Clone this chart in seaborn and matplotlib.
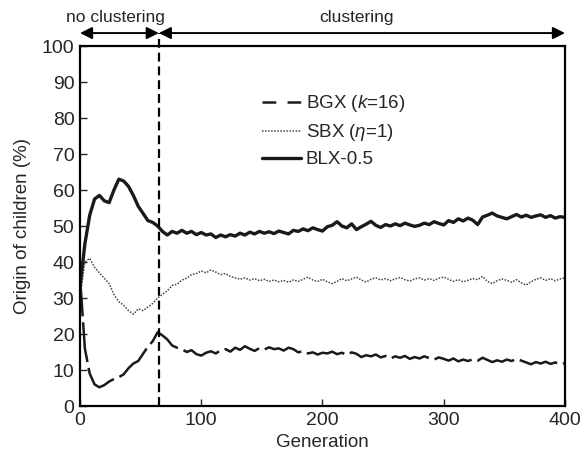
import numpy as np
import pandas as pd
import matplotlib
matplotlib.use("Agg")
import matplotlib.pyplot as plt
import seaborn as sns

# generations sampled every 4 steps (0..400)
generations = np.arange(0, 401, 4)

blx = [33, 45, 53, 57.5, 58.5, 57, 56.5, 60, 63, 62.5,
       61, 58.5, 55.5, 53.5, 51.5, 51, 50, 48.5, 47.5, 48.5,
       48, 48.8, 48, 48.5, 47.6, 48.2, 47.5, 47.8, 46.8, 47.5,
       47, 47.6, 47.2, 48, 47.5, 48.3, 47.8, 48.5, 48, 48.4,
       47.9, 48.6, 48.2, 47.8, 48.8, 48.5, 49.2, 48.7, 49.5, 49,
       48.6, 49.8, 50.2, 51.2, 50, 49.5, 50.6, 49, 49.8, 50.5,
       51.3, 50.2, 49.6, 50.4, 50, 50.6, 50.1, 50.8, 50.3, 49.9,
       50.2, 50.8, 50.4, 51.2, 50.7, 50.3, 51.5, 51, 52, 51.4,
       52.2, 51.6, 50.4, 52.5, 53, 53.6, 52.8, 52.4, 52, 52.6,
       53.2, 52.5, 53, 52.4, 52.8, 53.1, 52.4, 52.9, 52.2, 52.6,
       52.4]

sbx = [30, 40, 41, 38.5, 37, 35.5, 34, 31, 29, 28,
       26.5, 25.5, 27, 26.5, 27.5, 28.5, 30, 31, 32, 33.5,
       33.8, 35, 35.5, 36.5, 36.8, 37.5, 37, 37.8, 37.2, 36.5,
       36.8, 36, 35.6, 35.2, 35.6, 35, 35.4, 34.8, 35.2, 34.6,
       35, 34.5, 34.9, 34.4, 35, 34.6, 35.2, 35.8, 35, 34.6,
       35.2, 34.5, 34, 34.6, 35.4, 34.8, 35.3, 35.8, 35, 34.4,
       35.2, 35.6, 35, 35.4, 34.8, 35.3, 35.7, 35.1, 34.7, 35.3,
       35.6, 35, 35.4, 34.9, 35.5, 35.8, 35.2, 34.6, 35.1, 34.5,
       34.9, 35.4, 35.1, 36, 34.6, 34, 34.8, 35.3, 34.9, 34.4,
       35.1, 34.2, 33.6, 34.5, 35.2, 35.6, 34.9, 35.4, 34.8, 35.3,
       35.6]

bgx = [36, 16, 9, 6, 5.2, 5.8, 6.8, 7.5, 8, 8.8,
       10.5, 11.8, 12.5, 14.5, 16.5, 18, 20.5, 19.6, 18.5, 16.8,
       16.2, 15.8, 15, 15.5, 14.4, 14, 14.8, 15.2, 14.6, 15.5,
       15.8, 15.1, 16.2, 15.6, 16.6, 15.9, 15.3, 16.1, 15.7, 16.3,
       15.8, 16, 15.4, 16.2, 15.8, 14.9, 15.3, 14.6, 14.9, 14.3,
       14.8, 14.6, 15.1, 14.4, 14.8, 14.2, 14.9, 14.5, 13.6, 14.1,
       13.8, 14.3, 13.5, 13.9, 13.2, 13.8, 13.4, 13.9, 13.1, 13.6,
       13.2, 13.8, 13.3, 12.9, 13.5, 13.1, 12.6, 13.2, 12.4, 12.9,
       12.5, 13, 12.6, 13.4, 12.8, 12.2, 12.7, 12.3, 12.9, 12.5,
       13.1, 12.6, 12.1, 11.6, 12.2, 11.8, 12.3, 11.7, 12.1, 11.6,
       11.9]

switch_gen = 65

sns.set_style("ticks")
plt.rcParams["font.family"] = ["Liberation Sans", "DejaVu Sans"]
plt.rcParams["mathtext.fontset"] = "custom"
plt.rcParams["mathtext.it"] = "Liberation Sans:italic"
plt.rcParams["mathtext.rm"] = "Liberation Sans"

fig = plt.figure(figsize=(5.87, 4.63), dpi=100)
ax = fig.add_axes([0.1363, 0.1231, 0.8262, 0.7775])

df = pd.DataFrame({"gen": generations, "bgx": bgx, "sbx": sbx, "blx": blx})

sns.lineplot(data=df, x="gen", y="bgx", ax=ax, color="#1a1a1a", lw=1.8,
             linestyle=(0, (16, 2.4)), label="BGX ($k$=16)")
sns.lineplot(data=df, x="gen", y="sbx", ax=ax, color="#444444", lw=1.1,
             linestyle=(0, (1, 1)), label="SBX ($\\eta$=1)")
sns.lineplot(data=df, x="gen", y="blx", ax=ax, color="#1a1a1a", lw=2.4,
             label="BLX-0.5")

# boundary between the two phases
ax.plot([switch_gen, switch_gen], [0, 103.6], color="black", lw=1.6,
        linestyle=(0, (4, 2.2)), clip_on=False)

arrow = dict(arrowstyle="<|-|>", color="black", lw=1.4, mutation_scale=18,
             shrinkA=0, shrinkB=0)
ax.annotate("", xy=(0, 103.6), xytext=(switch_gen, 103.6), xycoords="data",
            arrowprops=arrow, annotation_clip=False)
ax.annotate("", xy=(switch_gen, 103.6), xytext=(400, 103.6), xycoords="data",
            arrowprops=arrow, annotation_clip=False)
ax.text(29, 107.8, "no clustering", ha="center", va="center",
        fontsize=12.5, clip_on=False)
ax.text(228, 107.8, "clustering", ha="center", va="center", fontsize=12.5,
        clip_on=False)

ax.set_xlim(0, 400)
ax.set_ylim(0, 100)
ax.set_xticks([0, 100, 200, 300, 400])
ax.set_yticks(range(0, 101, 10))
ax.tick_params(direction="in", length=5, width=1, labelsize=14, pad=4)
ax.set_xlabel("Generation", fontsize=13.5, labelpad=4)
ax.set_ylabel("Origin of children (%)", fontsize=13.5, labelpad=8)
for side in ["top", "right", "bottom", "left"]:
    ax.spines[side].set_visible(True)
    ax.spines[side].set_linewidth(1.6)
    ax.spines[side].set_color("black")

leg = ax.legend(loc="upper left", bbox_to_anchor=(0.34, 0.915), frameon=False,
                fontsize=13.5, handlelength=2.1, handletextpad=0.25,
                labelspacing=0.42)
# show the dash gap in the short legend handle
leg.get_lines()[0].set_linestyle((0, (5.5, 4.5)))

fig.savefig("out.png", dpi=100)
